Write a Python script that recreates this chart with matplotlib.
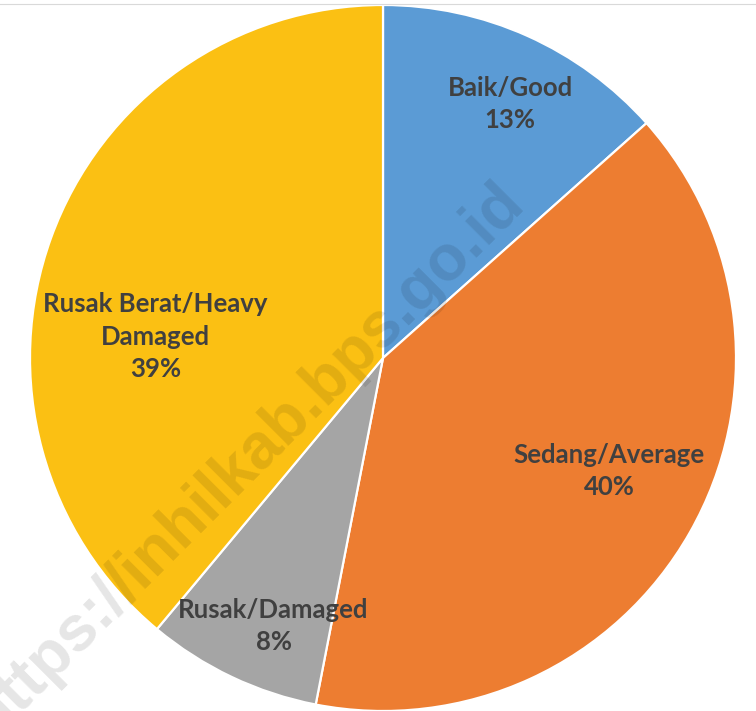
import matplotlib
matplotlib.use("Agg")
import matplotlib.pyplot as plt
import numpy as np

categories = ["Baik/Good", "Sedang/Average", "Rusak/Damaged", "Rusak Berat/Heavy\nDamaged"]
values = [13.4, 39.6, 8.0, 38.9]
colors = ["#5B9BD5", "#ED7D31", "#A5A5A5", "#FBC013"]
watermark = "https://inhilkab.bps.go.id"

# label centre offsets (fraction of radius, relative to pie centre)
label_offsets = [(0.36, 0.72), (0.64, -0.32), (-0.31, -0.76), (-0.645, 0.06)]

W, H = 756, 711
fig = plt.figure(figsize=(W / 100, H / 100), dpi=100)
ax = fig.add_axes([0, 0, 1, 1])

cx, cy, r = 383, 353, 353
ax.pie(values, colors=colors, startangle=90, counterclock=False,
       radius=r, center=(cx, cy), frame=True,
       wedgeprops=dict(edgecolor="white", linewidth=1.6))
ax.set_xlim(0, W)
ax.set_ylim(0, H)
ax.set_aspect("equal")
ax.axis("off")

total = sum(values)
for cat, v, (ox, oy) in zip(categories, values, label_offsets):
    ax.text(cx + ox * r, cy + oy * r, f"{cat}\n{v / total * 100:.0f}%",
            ha="center", va="center", fontsize=18.5, fontweight="bold",
            family=["Lato", "DejaVu Sans"], color="#404040", linespacing=1.42)

ax.text(247, H - 460, watermark, rotation=45, rotation_mode="anchor",
        ha="center", va="center", fontsize=46, fontweight="bold",
        family=["Liberation Sans", "DejaVu Sans"], color="black", alpha=0.1)

ax.plot([0, W], [H - 4, H - 4], color="#d9d9d9", linewidth=0.8)

fig.savefig("out.png", dpi=100)
